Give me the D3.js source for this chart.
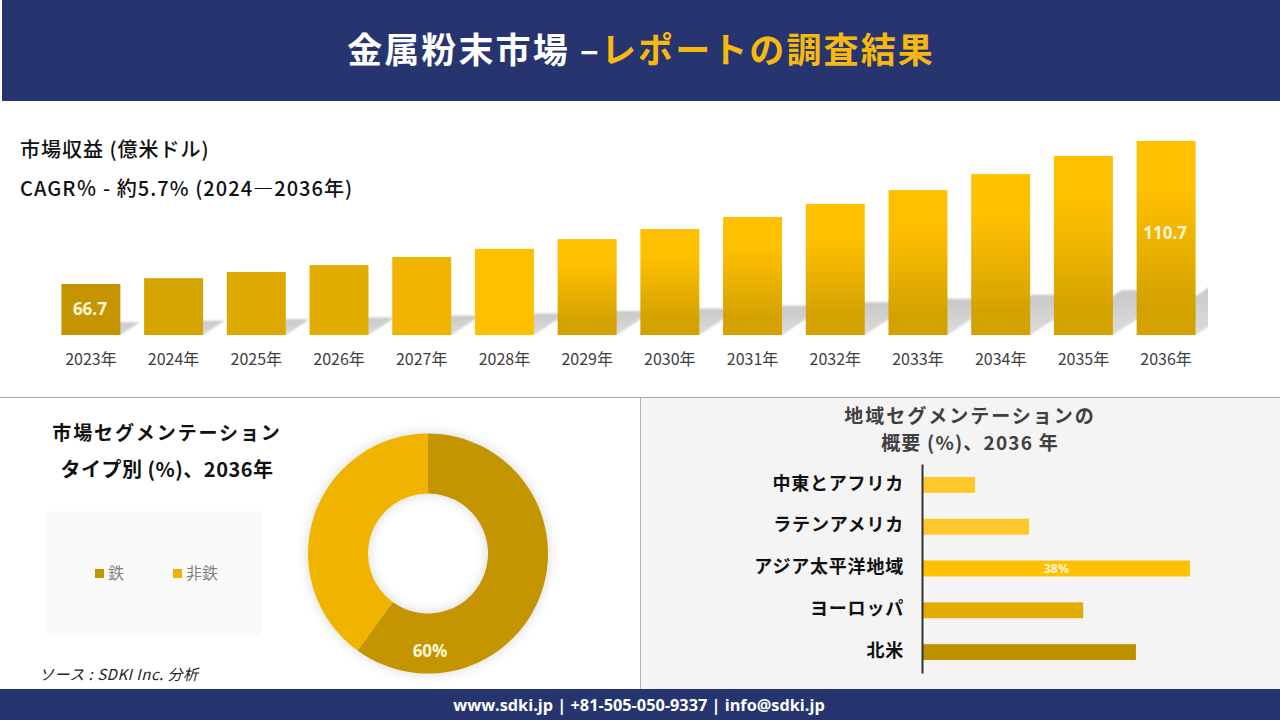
<!DOCTYPE html>
<html lang="ja">
<head>
<meta charset="utf-8">
<title>金属粉末市場</title>
<script src="https://cdn.jsdelivr.net/npm/d3@7"></script>
<style>
    html, body { margin: 0; padding: 0; background: #fff; }
    svg { display: block; }
    text { font-family: "Open Sans", "Noto Sans CJK JP", sans-serif; }
    .cjk { font-family: "Noto Sans CJK JP", sans-serif; }
</style>
</head>
<body>
<svg id="chart" width="1280" height="720"></svg>
<script>
const years = ["2023年", "2024年", "2025年", "2026年", "2027年", "2028年", "2029年", "2030年", "2031年", "2032年", "2033年", "2034年", "2035年", "2036年"];
const revenue = [66.7, 68.5, 70.4, 72.5, 75, 77.5, 80.5, 83.6, 87.3, 91.3, 95.6, 100.5, 106.1, 110.7];
const barTops = ["#c49500", "#d4a500", "#dda900", "#e2ac00", "#f0b400", "#ffc000", "#ffc000", "#ffc000", "#ffc000", "#ffc000", "#ffc000", "#ffc000", "#ffc000", "#ffc000"];
const barBottoms = ["#c49500", "#d4a500", "#dda900", "#e2ac00", "#f0b400", "#ffc000", "#d4a200", "#d4a200", "#d4a200", "#d4a200", "#d4a200", "#d4a200", "#d4a200", "#d4a200"];
const revenueLabels = { "2023年": "66.7", "2036年": "110.7" };

const types = ["鉄", "非鉄"];
const typeShares = [60, 40];
const typeColors = ["#c49500", "#efb300"];

const regions = ["中東とアフリカ", "ラテンアメリカ", "アジア太平洋地域", "ヨーロッパ", "北米"];
const regionShares = [7.4, 15.1, 38, 22.8, 30.3];
const regionColors = ["#ffc729", "#ffc729", "#ffc000", "#e2ac00", "#bf9000"];

const navy = "#26346f";
const svg = d3.select("#chart");
const defs = svg.append("defs");

defs.append("filter").attr("id", "barShadowBlur")
    .attr("x", "-10%").attr("y", "-10%").attr("width", "120%").attr("height", "120%")
    .append("feGaussianBlur").attr("stdDeviation", 1.2);

const shadowFill = defs.append("linearGradient").attr("id", "shadowFill")
    .attr("x1", 0).attr("x2", 0).attr("y1", 0).attr("y2", 1);
shadowFill.append("stop").attr("offset", "0%").attr("stop-color", "#c8c8c8");
shadowFill.append("stop").attr("offset", "100%").attr("stop-color", "#dcdcdc");

const donutGlow = defs.append("filter").attr("id", "donutGlow")
    .attr("x", "-20%").attr("y", "-20%").attr("width", "140%").attr("height", "140%");
donutGlow.append("feDropShadow")
    .attr("dx", 0).attr("dy", 0).attr("stdDeviation", 6)
    .attr("flood-color", "#000").attr("flood-opacity", 0.16);

// backgrounds
svg.append("rect").attr("x", 2).attr("y", 0).attr("width", 1278).attr("height", 101).attr("fill", navy);
svg.append("rect").attr("x", 641).attr("y", 398).attr("width", 639).attr("height", 291).attr("fill", "#f4f4f4");
svg.append("line").attr("x1", 0).attr("x2", 1280).attr("y1", 397.5).attr("y2", 397.5).attr("stroke", "#a8a8a8");
svg.append("line").attr("x1", 640.5).attr("x2", 640.5).attr("y1", 398).attr("y2", 689).attr("stroke", "#b4b4b4");
svg.append("rect").attr("x", 0).attr("y", 689).attr("width", 1280).attr("height", 31).attr("fill", navy);

// header and footer
const title = svg.append("text").attr("class", "cjk")
    .attr("x", 641).attr("y", 63)
    .attr("text-anchor", "middle")
    .attr("font-size", 35).attr("font-weight", 700).attr("letter-spacing", 2.1);
title.append("tspan").attr("fill", "#fff").text("金属粉末市場 –");
title.append("tspan").attr("fill", "#f7b90f").text("レポートの調査結果");

svg.append("text")
    .attr("x", 639).attr("y", 710.5)
    .attr("text-anchor", "middle")
    .attr("fill", "#fff").attr("font-size", 16.3).attr("font-weight", 700)
    .text("www.sdki.jp | +81-505-050-9337 | info@sdki.jp");

// revenue chart
svg.append("text").attr("class", "cjk")
    .attr("x", 20).attr("y", 157)
    .attr("font-size", 20).attr("font-weight", 500).attr("letter-spacing", 1).attr("fill", "#111")
    .text("市場収益 (億米ドル)");
svg.append("text").attr("class", "cjk")
    .attr("x", 20).attr("y", 196)
    .attr("font-size", 20).attr("font-weight", 500).attr("letter-spacing", 1.05).attr("fill", "#111")
    .text("CAGR％ - 約5.7% (2024—2036年)");

const x = d3.scaleBand()
    .domain(years)
    .range([49, 1208])
    .paddingInner(0.287)
    .paddingOuter(0.15);

const y = d3.scaleLinear()
    .domain([51, 110.7])
    .range([335, 141]);

const baseY = y.range()[0];
const shadowRise = 0.25;
const shadowSlope = 0.66;

const gradient = defs.selectAll("linearGradient.bar")
    .data(years)
    .join("linearGradient")
    .attr("class", "bar")
    .attr("id", (d, i) => `barFill${i}`)
    .attr("x1", 0).attr("x2", 0).attr("y1", 0).attr("y2", 1);
gradient.append("stop").attr("offset", "25%").attr("stop-color", (d, i) => barTops[i]);
gradient.append("stop").attr("offset", "85%").attr("stop-color", (d, i) => barBottoms[i]);

defs.append("clipPath").attr("id", "plotClip")
    .append("rect")
    .attr("x", 0).attr("y", 0)
    .attr("width", x.range()[1]).attr("height", baseY);

svg.append("g")
    .attr("clip-path", "url(#plotClip)")
    .append("g")
    .attr("filter", "url(#barShadowBlur)")
    .selectAll("path")
    .data(years)
    .join("path")
    .attr("fill", "url(#shadowFill)")
    .attr("d", (d, i) => {
        const left = x(d);
        const right = left + x.bandwidth();
        const rise = (baseY - y(revenue[i])) * shadowRise;
        const run = rise / shadowSlope;
        return `M${left},${baseY}L${right},${baseY}L${right + run},${baseY - rise}L${left + run},${baseY - rise}Z`;
    });

svg.append("g")
    .selectAll("rect")
    .data(years)
    .join("rect")
    .attr("x", d => x(d))
    .attr("y", (d, i) => y(revenue[i]))
    .attr("width", x.bandwidth())
    .attr("height", (d, i) => baseY - y(revenue[i]))
    .attr("fill", (d, i) => `url(#barFill${i})`);

svg.append("g")
    .selectAll("text")
    .data(years.filter(d => revenueLabels[d]))
    .join("text")
    .attr("x", d => x(d) + x.bandwidth() / 2 - 1)
    .attr("y", d => y(revenue[years.indexOf(d)]) + (d === "2036年" ? 98 : 31))
    .attr("text-anchor", "middle")
    .attr("fill", "#fff6d8").attr("font-size", 17).attr("font-weight", 700)
    .text(d => revenueLabels[d]);

const xAxis = svg.append("g")
    .attr("transform", `translate(0,${baseY})`)
    .call(d3.axisBottom(x).tickSize(0).tickPadding(19));
xAxis.select(".domain").remove();
xAxis.selectAll("text")
    .attr("class", "cjk")
    .attr("font-size", 16).attr("fill", "#404040");

// type donut
svg.append("text").attr("class", "cjk")
    .attr("x", 167).attr("y", 440)
    .attr("text-anchor", "middle")
    .attr("font-size", 19).attr("font-weight", 700).attr("letter-spacing", 1.9).attr("fill", "#111")
    .text("市場セグメンテーション");
svg.append("text").attr("class", "cjk")
    .attr("x", 167).attr("y", 477)
    .attr("text-anchor", "middle")
    .attr("font-size", 20).attr("font-weight", 700).attr("letter-spacing", 0.5).attr("fill", "#111")
    .text("タイプ別 (%)、2036年");

const pie = d3.pie().sort(null).value(d => d);
const arc = d3.arc().innerRadius(60).outerRadius(120);
const donut = svg.append("g").attr("transform", "translate(428,553.5)");

donut.append("g")
    .attr("filter", "url(#donutGlow)")
    .selectAll("path")
    .data(pie(typeShares))
    .join("path")
    .attr("d", arc)
    .attr("fill", (d, i) => typeColors[i]);

donut.append("text")
    .attr("x", 2).attr("y", 103)
    .attr("text-anchor", "middle")
    .attr("fill", "#fff6d8").attr("font-size", 17).attr("font-weight", 700)
    .text(`${typeShares[0]}%`);

svg.append("rect").attr("x", 46).attr("y", 511).attr("width", 215).attr("height", 125).attr("fill", "#fafafa");
const legendX = d3.scalePoint().domain(types).range([95, 173]);
const legend = svg.append("g")
    .selectAll("g")
    .data(types)
    .join("g")
    .attr("transform", d => `translate(${legendX(d)},569)`);
legend.append("rect")
    .attr("width", 9).attr("height", 9)
    .attr("fill", (d, i) => typeColors[i]);
legend.append("text").attr("class", "cjk")
    .attr("x", 13).attr("y", 10)
    .attr("font-size", 16).attr("fill", "#7f7f7f")
    .text(d => d);

svg.append("text").attr("class", "cjk")
    .attr("x", 39).attr("y", 680)
    .attr("font-size", 15).attr("font-style", "italic").attr("letter-spacing", 0.5).attr("fill", "#222")
    .text("ソース : SDKI Inc. 分析");

// region bars
svg.append("text").attr("class", "cjk")
    .attr("x", 970).attr("y", 423)
    .attr("text-anchor", "middle")
    .attr("font-size", 19).attr("font-weight", 700).attr("letter-spacing", 2).attr("fill", "#404040")
    .text("地域セグメンテーションの");
svg.append("text").attr("class", "cjk")
    .attr("x", 970).attr("y", 450)
    .attr("text-anchor", "middle")
    .attr("font-size", 19).attr("font-weight", 700).attr("letter-spacing", 1.2).attr("fill", "#404040")
    .text("概要 (%)、2036 年");

const rx = d3.scaleLinear().domain([0, 38]).range([923, 1190]);
const ry = d3.scaleBand().domain(regions).range([464, 673]).paddingInner(0.62).paddingOuter(0.31);

svg.append("g")
    .selectAll("rect")
    .data(regions)
    .join("rect")
    .attr("x", rx(0))
    .attr("y", d => ry(d))
    .attr("width", (d, i) => rx(regionShares[i]) - rx(0))
    .attr("height", ry.bandwidth())
    .attr("fill", (d, i) => regionColors[i]);

svg.append("text")
    .attr("x", rx(19)).attr("y", ry(regions[2]) + ry.bandwidth() / 2 + 4.5)
    .attr("text-anchor", "middle")
    .attr("fill", "#fff6d8").attr("font-size", 12.5).attr("font-weight", 700)
    .text("38%");

const yAxis = svg.append("g")
    .attr("transform", "translate(922,0)")
    .call(d3.axisLeft(ry).tickSize(0).tickPadding(18));
yAxis.select(".domain").attr("stroke", "#333").attr("stroke-width", 2);
yAxis.selectAll("text")
    .attr("class", "cjk")
    .attr("font-size", 18).attr("font-weight", 700).attr("letter-spacing", 0.8).attr("fill", "#111")
    .attr("transform", "translate(0,-1)");
</script>
</body>
</html>
